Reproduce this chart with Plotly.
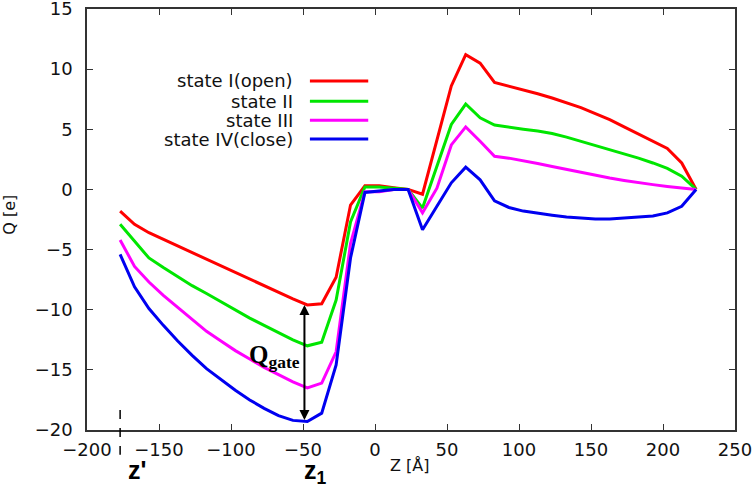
import plotly.graph_objects as go

# ---- data ----
z = [-177, -167, -157, -147, -137, -127, -117, -107, -97, -87, -77, -67, -57, -47,
     -37, -27, -17, -7, 3, 13, 23, 33, 43, 53, 63, 73, 83,
     93, 103, 113, 123, 133, 143, 153, 163, 173, 183, 193, 203, 213, 223]

state_open = [-1.8, -2.9, -3.6, -4.15, -4.75, -5.3, -5.85, -6.4, -6.9, -7.45, -8.0, -8.55, -9.1, -9.6,
              -9.5, -7.3, -1.3, 0.3, 0.3, 0.15, 0.0, -0.4, 4.0, 8.6, 11.2, 10.5, 8.9,
              8.6, 8.3, 7.95, 7.6, 7.2, 6.8, 6.3, 5.8, 5.2, 4.6, 3.95, 3.4, 2.2, 0.0]
state_2 = [-2.9, -4.3, -5.7, -6.5, -7.25, -8.0, -8.65, -9.35, -10.0, -10.7, -11.3, -11.9, -12.5, -13.0,
           -12.7, -9.2, -2.7, 0.2, 0.2, 0.1, 0.0, -1.55, 2.0, 5.4, 7.1, 5.95, 5.35,
           5.15, 5.0, 4.85, 4.65, 4.35, 4.0, 3.7, 3.35, 3.0, 2.6, 2.2, 1.75, 1.1, 0.0]
state_3 = [-4.2, -6.4, -7.7, -8.8, -9.8, -10.8, -11.8, -12.6, -13.4, -14.1, -14.8, -15.4, -16.0, -16.5,
           -16.1, -13.5, -4.5, -0.2, -0.2, 0.0, 0.0, -1.95, 0.1, 3.7, 5.2, 4.0, 2.75,
           2.6, 2.4, 2.15, 1.9, 1.65, 1.4, 1.15, 0.95, 0.75, 0.55, 0.4, 0.25, 0.12, 0.0]
state_close = [-5.4, -8.1, -9.9, -11.3, -12.6, -13.8, -14.9, -15.8, -16.7, -17.5, -18.2, -18.8, -19.2, -19.3,
               -18.6, -14.6, -5.7, -0.25, -0.1, 0.0, 0.0, -3.35, -1.4, 0.55, 1.85, 0.8, -0.95,
               -1.5, -1.8, -2.0, -2.15, -2.3, -2.4, -2.45, -2.45, -2.4, -2.3, -2.2, -1.95, -1.4, 0.0]

names = ["state I(open)", "state II", "state III", "state IV(close)"]
colors = ["#ff0000", "#00e600", "#ff00ff", "#0000f0"]
series = [state_open, state_2, state_3, state_close]

x_ticks = [-200, -150, -100, -50, 0, 50, 100, 150, 200, 250]
y_ticks = [-20, -15, -10, -5, 0, 5, 10, 15]

z_prime = -177
z_one = -49
gate_idx = 13

FONT = "DejaVu Sans"
BOLD = "Liberation Sans"

fig = go.Figure()
for name, col, ys in zip(names, colors, series):
    fig.add_trace(go.Scatter(x=z, y=ys, mode="lines", name=name,
                             line=dict(color=col, width=3), showlegend=False))

# manual legend (text to the left of the line sample)
leg_y = [0.829, 0.781, 0.736, 0.691]
for name, col, ly in zip(names, colors, leg_y):
    fig.add_annotation(x=0.321, y=ly, xref="paper", yref="paper", text=name,
                       showarrow=False, xanchor="right", yanchor="middle",
                       font=dict(family=FONT, size=18, color="#111"))
    fig.add_shape(type="line", xref="paper", yref="paper", x0=0.344, x1=0.434,
                  y0=ly, y1=ly, line=dict(color=col, width=3))

# Q_gate double arrow
fig.add_annotation(x=z_one, y=state_open[gate_idx], ax=z_one, ay=state_close[gate_idx],
                   xref="x", yref="y", axref="x", ayref="y", text="", showarrow=True,
                   arrowhead=2, startarrowhead=2, arrowside="end+start",
                   arrowsize=1, arrowwidth=2, arrowcolor="#000")
fig.add_annotation(x=-50.5, y=-13.9, xref="x", yref="y",
                   text="<b>Q<sub>gate</sub></b>", showarrow=False, xanchor="right",
                   yanchor="middle",
                   font=dict(family="Liberation Serif", size=25, color="#000"))

# z' dashed marker
fig.add_shape(type="line", xref="x", yref="paper", x0=z_prime, x1=z_prime,
              y0=0.0475, y1=-0.059, line=dict(color="#000", width=1.5, dash="dash"))
fig.add_annotation(x=-165, y=-0.094, xref="x", yref="paper", text="<b>z'</b>",
                   showarrow=False, xanchor="center", yanchor="middle",
                   font=dict(family=BOLD, size=25, color="#000"))
fig.add_annotation(x=-41, y=-0.1, xref="x", yref="paper", text="<b>z<sub>1</sub></b>",
                   showarrow=False, xanchor="center", yanchor="middle",
                   font=dict(family=BOLD, size=25, color="#000"))

# axis titles
fig.add_annotation(x=0.498, y=-0.0855, xref="paper", yref="paper", text="Z [Å]",
                   showarrow=False, xanchor="center", yanchor="middle",
                   font=dict(family=FONT, size=16, color="#111"))
fig.add_annotation(x=-0.119, y=0.511, xref="paper", yref="paper", text="Q [e]",
                   showarrow=False, textangle=-90, xanchor="center", yanchor="middle",
                   font=dict(family=FONT, size=16, color="#111"))

axis_common = dict(showgrid=False, zeroline=False, showline=True, mirror="ticks",
                   linecolor="#333", linewidth=1.5, ticks="inside", ticklen=6,
                   tickcolor="#333", tickwidth=1.2, automargin=False,
                   ticklabeloverflow="allow",
                   tickfont=dict(family=FONT, size=18, color="#111"))
fig.update_xaxes(range=[-200, 250], tickvals=x_ticks, ticklabelstandoff=3, **axis_common)
fig.update_yaxes(range=[-20, 15], tickvals=y_ticks, ticklabelstandoff=9, **axis_common)

fig.update_layout(width=754, height=487, margin=dict(l=87, r=19, t=9, b=57),
                  plot_bgcolor="white", paper_bgcolor="white")

fig.write_html("out.html", config={"displayModeBar": False},
               post_script="document.body.style.margin='0';")
